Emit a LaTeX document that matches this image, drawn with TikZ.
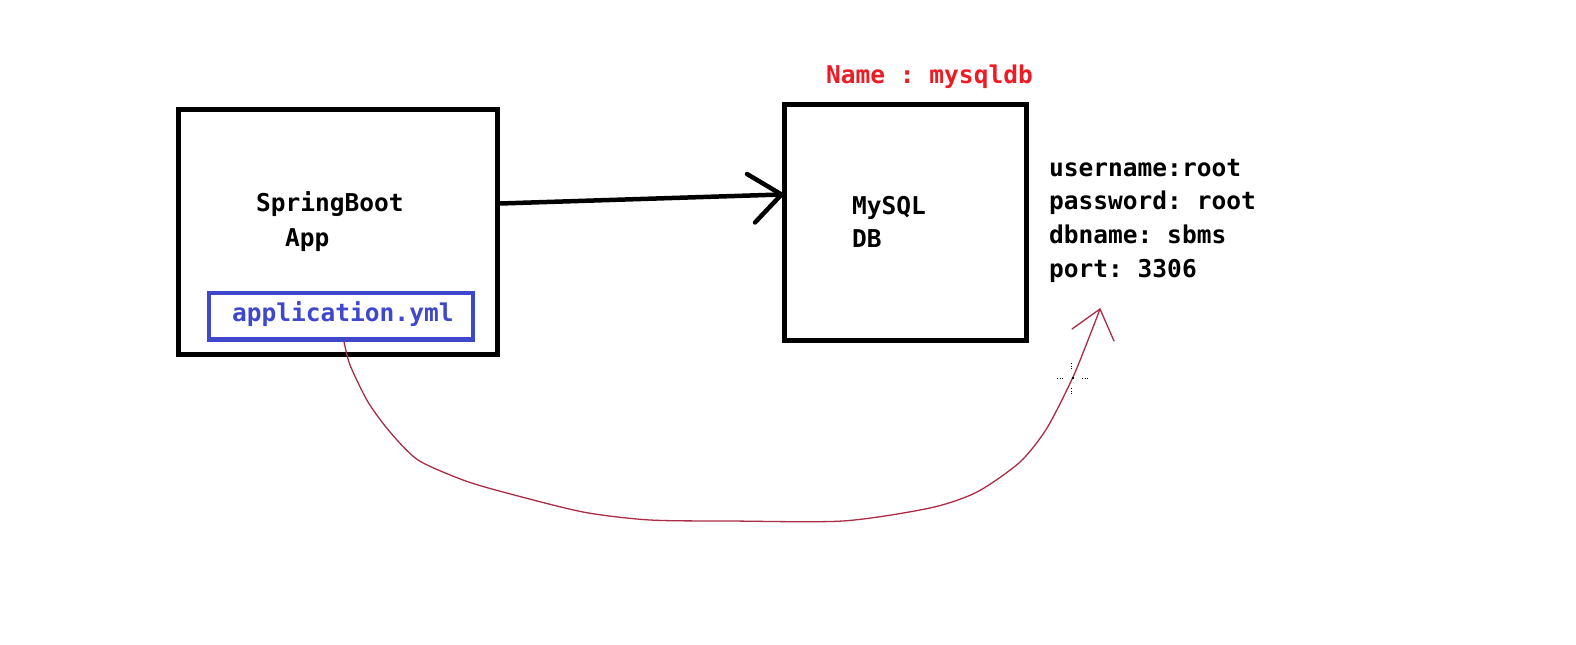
\documentclass[tikz,border=0pt]{standalone}
\usepackage{fontspec}
\setmonofont{DejaVu Sans Mono}
\definecolor{paintblue}{RGB}{63,72,204}
\definecolor{paintred}{RGB}{237,28,36}
\definecolor{curvered}{RGB}{170,45,70}
\begin{document}
\begin{tikzpicture}[x=1bp,y=-1bp,
  box/.style={draw=black,line width=5bp,minimum width=#1},
  txt/.style={anchor=base west,inner sep=0pt,font=\fontsize{24.6}{29}\selectfont\ttfamily\bfseries},
  connector/.style={line width=4.5bp,line cap=round,line join=round},
  linkcurve/.style={draw=curvered,line width=1.3bp,line cap=round,line join=round}]
\useasboundingbox (0,0) rectangle (1576,645);
\fill[white] (0,0) rectangle (1576,645);
% boxes
\node[box=319bp,minimum height=245bp] (app) at (338,232) {};
\node[box=242bp,minimum height=235bp] (db) at (905,222.5) {};
\node[draw=paintblue,line width=4.5bp,minimum width=264bp,minimum height=46.5bp] (yml) at (341,316) {};
% texts
\node[txt] (t1) at (256,211.5) {SpringBoot};
\node[txt] (t2) at (285,246.5) {App};
\node[txt,text=paintblue] (t3) at (232,321.5) {application.yml};
\node[txt] (t4) at (852,215) {MySQL};
\node[txt] (t5) at (852,247) {DB};
\node[txt,text=paintred] (t6) at (826,84) {Name : mysqldb};
\node[txt] (u1) at (1049,177) {username:root};
\node[txt] (u2) at (1049,210) {password: root};
\node[txt] (u3) at (1049,243) {dbname: sbms};
\node[txt] (u4) at (1049,277) {port: 3306};
% arrow app -> db
\coordinate (a1) at (app.east |- 0,203.5);
\coordinate (a2) at (db.west |- 0,194.5);
\coordinate (b1) at (747,174);
\coordinate (b2) at (755,222.5);
\draw[connector] (a1) -- (a2);
\draw[connector] (b1) -- (a2) -- (b2);
% red curve from application.yml to credentials
\coordinate (c0) at (yml.south -| 344,0);
\coordinate (c9) at (1100,309);
\draw[linkcurve] plot[smooth,tension=0.45] coordinates {
  (c0) (350,365) (368,402) (390,432) (418,460) (463,480) (503,492)
  (583,512) (650,520) (730,521) (843,521) (930,508) (977,492)
  (1020,462) (1047,428) (1073,377) (1090,335) (c9)};
\draw[linkcurve] (1072,329) -- (c9) -- (1114,341);
% cursor crosshair
\foreach \yy in {363,365.5,368,388,390.5,393}{\fill[black] (1070.6,\yy) rectangle +(1.4,1.4);}
\foreach \xx in {1057,1059.5,1062,1082,1084.5,1087}{\fill[black] (\xx,377.5) rectangle +(1.4,1.4);}
\fill[black] (1071.5,376.5) rectangle +(2.2,2.2);
\end{tikzpicture}
\end{document}
